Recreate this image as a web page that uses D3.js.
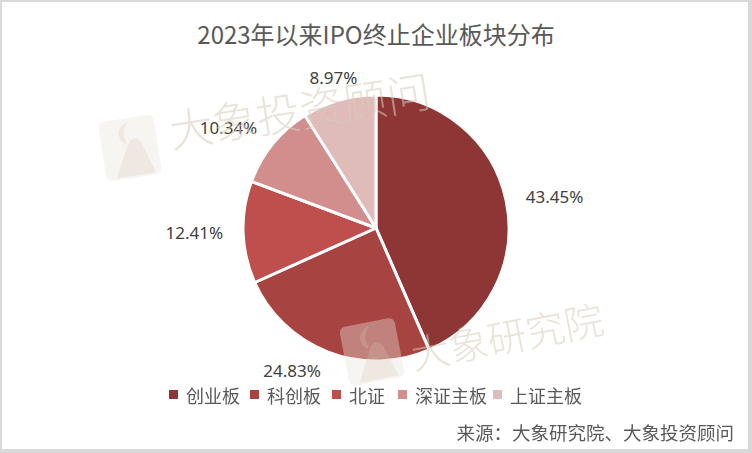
<!DOCTYPE html>
<html>
<head>
<meta charset="utf-8">
<script src="https://cdn.jsdelivr.net/npm/d3@7"></script>
<style>
	html, body { margin: 0; padding: 0; background: #fff; }
	svg { display: block; }
</style>
</head>
<body>
<svg id="chart" width="752" height="453"></svg>
<script>
// Values
const categories = ["创业板", "科创板", "北证", "深证主板", "上证主板"];
const shares = [43.45, 24.83, 12.41, 10.34, 8.97];
const labels = ["43.45%", "24.83%", "12.41%", "10.34%", "8.97%"];
const colors = ["#8E3636", "#A74442", "#BE4F4C", "#D18E8C", "#DFBBBA"];

const width = 752,
	height = 453;
const cx = 376,
	cy = 228,
	radius = 133;
const fontCJK = "'Noto Sans CJK SC', 'Noto Sans', sans-serif";

const svg = d3.select("#chart");

// frame
svg.append("rect").attr("width", width).attr("height", height).attr("fill", "#d9d9d9");
svg.append("rect").attr("x", 2).attr("y", 2).attr("width", width - 6).attr("height", height - 6).attr("fill", "#fff");

// title
svg.append("text")
	.attr("x", 376)
	.attr("y", 33)
	.attr("text-anchor", "middle")
	.attr("dominant-baseline", "central")
	.attr("font-family", fontCJK)
	.attr("font-size", 24)
	.attr("font-weight", 400)
	.attr("fill", "#595959")
	.text("2023年以来IPO终止企业板块分布");

// pie
const data = categories.map((c, i) => ({ name: c, value: shares[i], label: labels[i] }));
const scaleColor = d3.scaleOrdinal(categories, colors);
const pie = d3.pie().sort(null).value((d) => d.value);
const arc = d3.arc().innerRadius(0).outerRadius(radius);
const arcs = pie(data);

const g = svg.append("g").attr("transform", `translate(${cx},${cy})`);
g.selectAll(".slice")
	.data(arcs)
	.join("path")
	.classed("slice", true)
	.attr("d", arc)
	.attr("fill", (d) => scaleColor(d.data.name))
	.attr("stroke", "#fff")
	.attr("stroke-width", 3)
	.attr("stroke-linejoin", "round");

// labels outside end
const labelR = radius + 20;
g.selectAll(".pct")
	.data(arcs)
	.join("text")
	.classed("pct", true)
	.each(function (d) {
		const a = (d.startAngle + d.endAngle) / 2;
		const s = Math.sin(a),
			c = Math.cos(a);
		d3.select(this)
			.attr("x", labelR * s)
			.attr("y", -labelR * c - (c > 0.5 ? 4 : 0))
			.attr("text-anchor", s > 0.3 ? "start" : s < -0.3 ? "end" : "middle");
	})
	.attr("dominant-baseline", "central")
	.attr("font-family", "'Noto Sans', sans-serif")
	.attr("font-size", 17)
	.attr("fill", "#404040")
	.text((d) => d.data.label);

// watermarks
const wm = svg.append("g").attr("opacity", 0.55).style("pointer-events", "none");
function watermark(x, y, angle, size, txt, lx, ly) {
	const lg = wm.append("g").attr("transform", `translate(${lx},${ly}) rotate(${-angle})`);
	lg.append("rect")
		.attr("x", -28).attr("y", -30)
		.attr("width", 56).attr("height", 60)
		.attr("rx", 6)
		.attr("fill", "#ebe6de")
		.attr("opacity", 0.7);
	lg.append("path")
		.attr("d", "M-18,28 L0,-6 C6,-12 12,-8 14,2 L22,28 Z")
		.attr("fill", "#e0d6c8");
	lg.append("path")
		.attr("d", "M-4,-4 C-14,-14 -8,-24 2,-26 C-4,-20 -6,-12 -2,-6 Z")
		.attr("fill", "#e0d6c8");
	wm.append("text")
		.attr("transform", `translate(${x},${y}) rotate(${-angle})`)
		.attr("font-family", "'Noto Sans CJK SC', serif")
		.attr("font-size", size)
		.attr("font-weight", 300)
		.attr("fill", "#d8ccba")
		.text(txt);
}
watermark(172, 148, 9, 44, "大象投资顾问", 130, 148);
watermark(414, 370, 11, 39, "大象研究院", 372, 352);

// legend
const legendX = [169, 250, 332, 398, 493];
const legend = svg.append("g");
legend.selectAll(".key")
	.data(categories)
	.join("rect")
	.classed("key", true)
	.attr("x", (d, i) => legendX[i])
	.attr("y", 390)
	.attr("width", 9)
	.attr("height", 9)
	.attr("fill", (d) => scaleColor(d));
legend.selectAll(".keyText")
	.data(categories)
	.join("text")
	.classed("keyText", true)
	.attr("x", (d, i) => legendX[i] + 17)
	.attr("y", 395)
	.attr("dominant-baseline", "central")
	.attr("font-family", fontCJK)
	.attr("font-size", 18)
	.attr("fill", "#595959")
	.text((d) => d);

// source
svg.append("text")
	.attr("x", 734)
	.attr("y", 432)
	.attr("text-anchor", "end")
	.attr("dominant-baseline", "central")
	.attr("font-family", fontCJK)
	.attr("font-size", 18.5)
	.attr("fill", "#595959")
	.text("来源：大象研究院、大象投资顾问");
</script>
</body>
</html>
